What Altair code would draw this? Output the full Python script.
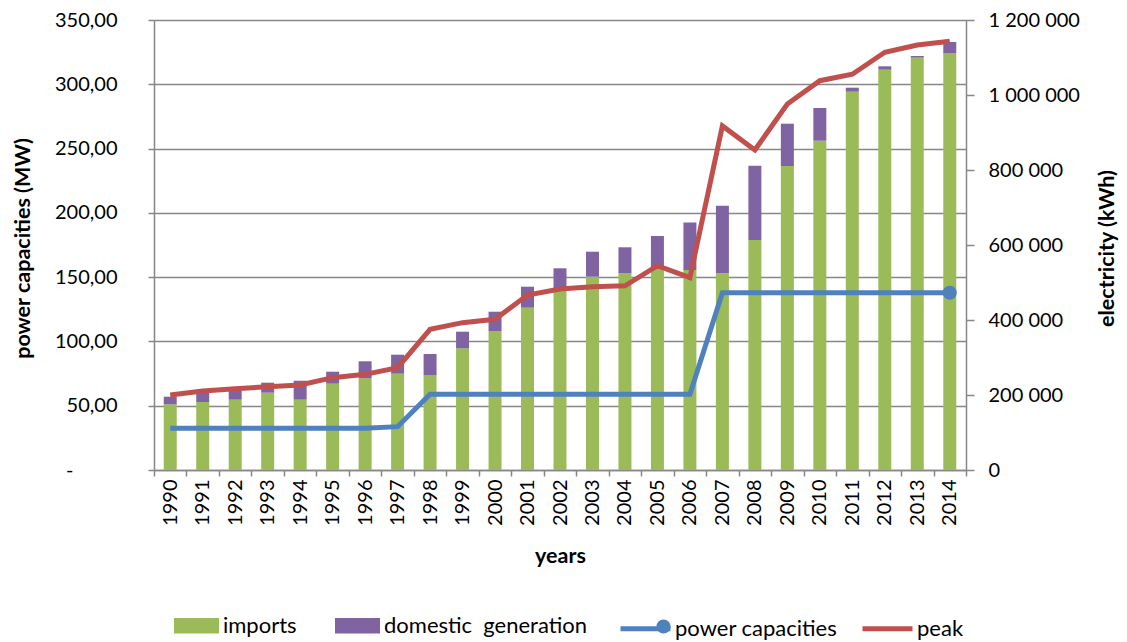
import altair as alt
import pandas as pd

years = ["1990", "1991", "1992", "1993", "1994", "1995", "1996", "1997", "1998", "1999",
         "2000", "2001", "2002", "2003", "2004", "2005", "2006", "2007", "2008", "2009",
         "2010", "2011", "2012", "2013", "2014"]

# electricity (kWh) - stacked bars, right axis
imports_kwh = [175200, 181300, 187500, 206100, 187500, 230100, 244500, 256800, 253300, 324500,
               369900, 432800, 477300, 515500, 524500, 535200, 533300, 524500, 613300, 810700,
               878100, 1008800, 1067500, 1099500, 1112000]
domestic_kwh = [20300, 27500, 25800, 26700, 50600, 32000, 45400, 50700, 56000, 44300,
                52200, 56000, 60600, 66600, 69400, 88800, 126700, 180300, 198200, 112800,
                87200, 10700, 9000, 4500, 29300]

# power (MW) - lines, left axis
capacities_mw = [32.4, 32.4, 32.4, 32.4, 32.4, 32.4, 32.4, 33.7, 58.9, 58.9,
                 58.9, 58.9, 58.9, 58.9, 58.9, 58.9, 58.9, 137.9, 137.9, 137.9,
                 137.9, 137.9, 137.9, 137.9, 137.9]
peak_mw = [58.3, 61.4, 63.2, 64.8, 66.1, 71.8, 74.4, 79.6, 109.4, 114.6,
           117.2, 136.1, 140.8, 142.6, 143.3, 158.9, 149.6, 267.6, 248.9, 284.7,
           302.8, 307.8, 324.9, 330.6, 333.4]

bar_series = ["imports", "domestic  generation"]
bar_colors = ["#9BBB59", "#8064A2"]
line_series = ["power capacities", "peak"]
line_colors = ["#4F81BD", "#C0504D"]

bar_rows = []
for i, y in enumerate(years):
    bar_rows.append({"year": y, "series": "imports", "value": imports_kwh[i], "ord": 0})
    bar_rows.append({"year": y, "series": "domestic  generation", "value": domestic_kwh[i], "ord": 1})
bars_df = pd.DataFrame(bar_rows)

line_rows = []
for i, y in enumerate(years):
    line_rows.append({"year": y, "series": "power capacities", "value": capacities_mw[i]})
    line_rows.append({"year": y, "series": "peak", "value": peak_mw[i]})
lines_df = pd.DataFrame(line_rows)

FONT = "Lato"
GRAY = "#878787"

fill_legend = alt.Legend(
    orient="none", legendX=20, legendY=583, direction="horizontal", title=None,
    labelFont=FONT, labelFontSize=22, labelColor="#000000", labelOffset=4,
    labelExpr="replace(datum.label, '  ', '\u00a0 ')",
    symbolType="M-1,-0.34H1V0.34H-1Z", symbolSize=2025, symbolStrokeWidth=0,
    symbolOpacity=1, columnPadding=38, labelLimit=400,
)
stroke_legend = alt.Legend(
    orient="none", legendX=464, legendY=581, direction="horizontal", title=None,
    labelFont=FONT, labelFontSize=22, labelColor="#000000", labelOffset=2,
    symbolType="M-1,0H1", symbolSize=2500, symbolStrokeWidth=5,
    symbolOpacity=1, columnPadding=14, labelLimit=400,
)
dot_legend = alt.Legend(
    orient="none", legendX=502, legendY=599, direction="horizontal", title=None,
    labelFontSize=1, labelExpr="''", labelOffset=0,
    symbolType="circle", symbolSize=200, symbolFillColor="#4F81BD",
    symbolStrokeColor="#4F81BD", symbolStrokeWidth=0, symbolOpacity=1,
)

x_enc = alt.X(
    "year:N", sort=years,
    scale=alt.Scale(paddingInner=0, paddingOuter=0),
    axis=alt.Axis(
        title="years", labelAngle=-90, tickBand="extent", tickSize=6, labelPadding=3,
        grid=False, titleX=406, titleY=86, titleBaseline="middle", titleAlign="center",
        labelOverlap=False,
    ),
)

left_label_expr = "datum.value == 0 ? '-' : replace(format(datum.value, '.2f'), '.', ',')"
right_label_expr = "replace(format(datum.value, ','), regexp(',', 'g'), ' ')"

bars = alt.Chart(bars_df).mark_bar(width={"band": 0.4}).encode(
    x=x_enc,
    y=alt.Y(
        "value:Q", stack="zero",
        scale=alt.Scale(domain=[0, 1200000], nice=False, zero=True),
        axis=alt.Axis(
            orient="right", values=[0, 200000, 400000, 600000, 800000, 1000000, 1200000],
            labelExpr=right_label_expr, title="electricity (kWh)", grid=False,
            tickSize=8, labelPadding=14, titleAngle=270, titleX=141, titleY=228,
            titleBaseline="middle", titleAlign="center", labelOverlap=False,
        ),
    ),
    fill=alt.Fill("series:N", scale=alt.Scale(domain=bar_series, range=bar_colors), legend=fill_legend),
    order=alt.Order("ord:Q", sort="ascending"),
)

y_left = alt.Y(
    "value:Q",
    scale=alt.Scale(domain=[0, 350], nice=False, zero=True),
    axis=alt.Axis(
        orient="left", values=[0, 50, 100, 150, 200, 250, 300, 350],
        labelExpr=left_label_expr, title="power capacities (MW)", grid=True,
        gridColor=GRAY, gridWidth=1.5, tickSize=6,
        labelPadding={"condition": {"test": "datum.value == 0", "value": 75}, "value": 31},
        titleAngle=270, titleX=-131, titleY=228, titleBaseline="middle",
        titleAlign="center", labelOverlap=False,
    ),
)

lines = alt.Chart(lines_df).mark_line(strokeWidth=5).encode(
    x=x_enc,
    y=y_left,
    stroke=alt.Stroke("series:N", scale=alt.Scale(domain=line_series, range=line_colors), legend=stroke_legend),
)

end_point = alt.Chart(lines_df).transform_filter(
    "datum.series == 'power capacities' && datum.year == '2014'"
).mark_point(size=200, opacity=1, filled=True, color="#4F81BD").encode(
    x=x_enc,
    y=y_left,
    shape=alt.Shape("series:N", scale=alt.Scale(domain=["power capacities"], range=["circle"]), legend=dot_legend),
)

line_layer = alt.layer(lines, end_point)

chart = alt.layer(bars, line_layer).resolve_scale(y="independent").properties(
    width=812, height=450,
    autosize=alt.AutoSizeParams(type="none"),
    padding={"left": 146, "top": 12, "right": 153, "bottom": 172},
).configure_view(stroke=None).configure_axis(
    domainColor=GRAY, tickColor=GRAY, domainWidth=1.5, tickWidth=1.5,
    labelFont=FONT, labelFontSize=20, labelColor="#000000",
    titleFont=FONT, titleFontSize=21.5, titleFontWeight="bold", titleColor="#000000",
)

chart.save("out.html", embed_options={"renderer": "svg", "actions": False})
